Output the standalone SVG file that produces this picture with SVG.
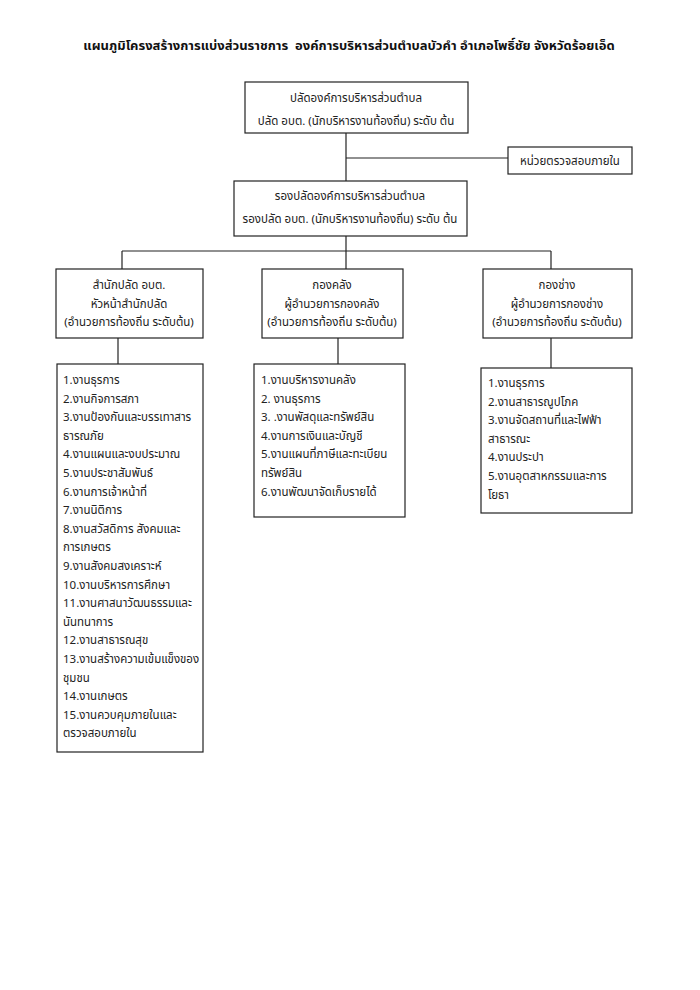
<svg xmlns="http://www.w3.org/2000/svg" width="700" height="990" viewBox="0 0 700 990">
<style>
text{font-family:"Noto Sans Thai","Noto Sans","DejaVu Sans","Liberation Sans",sans-serif;font-size:11.5px;fill:#222}
.t{font-size:13px;font-weight:bold;fill:#111}
.c{text-anchor:middle}
rect{fill:#fff;stroke:#222;stroke-width:1.2}
#connectors line{stroke:#222;stroke-width:1.2}
</style>
<rect x="0" y="0" width="700" height="990" style="stroke:none;fill:#fff"/>
<text class="t c" x="349" y="50">แผนภูมิโครงสร้างการแบ่งส่วนราชการ&#160; องค์การบริหารส่วนตำบลบัวคำ อำเภอโพธิ์ชัย จังหวัดร้อยเอ็ด</text>
<g id="connectors">
<line x1="346" y1="133" x2="346" y2="181"/>
<line x1="346" y1="158" x2="508" y2="158"/>
<line x1="346" y1="236" x2="346" y2="251"/>
<line x1="122" y1="251" x2="551" y2="251"/>
<line x1="122" y1="251" x2="122" y2="269"/>
<line x1="346" y1="251" x2="346" y2="269"/>
<line x1="551" y1="251" x2="551" y2="269"/>
<line x1="118" y1="338" x2="118" y2="364"/>
<line x1="338" y1="338" x2="338" y2="364"/>
<line x1="551" y1="338" x2="551" y2="368"/>
</g>
<g id="n-palad">
<rect x="245" y="82" width="223" height="51"/>
<text class="c" x="356" y="102">ปลัดองค์การบริหารส่วนตำบล</text>
<text class="c" x="356" y="125">ปลัด อบต. (นักบริหารงานท้องถิ่น) ระดับ ต้น</text>
</g>
<g id="n-audit">
<rect x="508" y="147" width="124" height="27"/>
<text class="c" x="570" y="165">หน่วยตรวจสอบภายใน</text>
</g>
<g id="n-deputy">
<rect x="234" y="181" width="233" height="55"/>
<text class="c" x="350" y="200">รองปลัดองค์การบริหารส่วนตำบล</text>
<text class="c" x="350" y="223">รองปลัด อบต. (นักบริหารงานท้องถิ่น) ระดับ ต้น</text>
</g>
<g id="n-office">
<rect x="56" y="269" width="147" height="69"/>
<text class="c" x="129" y="289">สำนักปลัด อบต.</text>
<text class="c" x="129" y="308">หัวหน้าสำนักปลัด</text>
<text class="c" x="129" y="326">(อำนวยการท้องถิ่น ระดับต้น)</text>
</g>
<g id="n-finance">
<rect x="262" y="269" width="141" height="69"/>
<text class="c" x="332" y="289">กองคลัง</text>
<text class="c" x="332" y="308">ผู้อำนวยการกองคลัง</text>
<text class="c" x="332" y="326">(อำนวยการท้องถิ่น ระดับต้น)</text>
</g>
<g id="n-works">
<rect x="483" y="269" width="149" height="69"/>
<text class="c" x="557" y="289">กองช่าง</text>
<text class="c" x="557" y="308">ผู้อำนวยการกองช่าง</text>
<text class="c" x="557" y="326">(อำนวยการท้องถิ่น ระดับต้น)</text>
</g>
<g id="n-office-list">
<rect x="57" y="364" width="146" height="388"/>
<text x="63" y="384">1.งานธุรการ</text>
<text x="63" y="402.6">2.งานกิจการสภา</text>
<text x="63" y="421.2">3.งานป้องกันและบรรเทาสาร</text>
<text x="63" y="439.8">ธารณภัย</text>
<text x="63" y="458.4">4.งานแผนและงบประมาณ</text>
<text x="63" y="477">5.งานประชาสัมพันธ์</text>
<text x="63" y="495.6">6.งานการเจ้าหน้าที่</text>
<text x="63" y="514.2">7.งานนิติการ</text>
<text x="63" y="532.8">8.งานสวัสดิการ สังคมและ</text>
<text x="63" y="551.4">การเกษตร</text>
<text x="63" y="570">9.งานสังคมสงเคราะห์</text>
<text x="63" y="588.6">10.งานบริหารการศึกษา</text>
<text x="63" y="607.2">11.งานศาสนาวัฒนธรรมและ</text>
<text x="63" y="625.8">นันทนาการ</text>
<text x="63" y="644.4">12.งานสาธารณสุข</text>
<text x="63" y="663">13.งานสร้างความเข้มแข็งของ</text>
<text x="63" y="681.6">ชุมชน</text>
<text x="63" y="700.2">14.งานเกษตร</text>
<text x="63" y="718.8">15.งานควบคุมภายในและ</text>
<text x="63" y="737.4">ตรวจสอบภายใน</text>
</g>
<g id="n-finance-list">
<rect x="254" y="364" width="151" height="153"/>
<text x="261" y="384">1.งานบริหารงานคลัง</text>
<text x="261" y="402.6">2. งานธุรการ</text>
<text x="261" y="421.2">3. .งานพัสดุและทรัพย์สิน</text>
<text x="261" y="439.8">4.งานการเงินและบัญชี</text>
<text x="261" y="458.4">5.งานแผนที่ภาษีและทะเบียน</text>
<text x="261" y="477">ทรัพย์สิน</text>
<text x="261" y="495.6">6.งานพัฒนาจัดเก็บรายได้</text>
</g>
<g id="n-works-list">
<rect x="481" y="368" width="151" height="145"/>
<text x="488" y="387">1.งานธุรการ</text>
<text x="488" y="405.6">2.งานสาธารณูปโภค</text>
<text x="488" y="424.2">3.งานจัดสถานที่และไฟฟ้า</text>
<text x="488" y="442.8">สาธารณะ</text>
<text x="488" y="461.4">4.งานประปา</text>
<text x="488" y="480">5.งานอุตสาหกรรมและการ</text>
<text x="488" y="498.6">โยธา</text>
</g>
</svg>
